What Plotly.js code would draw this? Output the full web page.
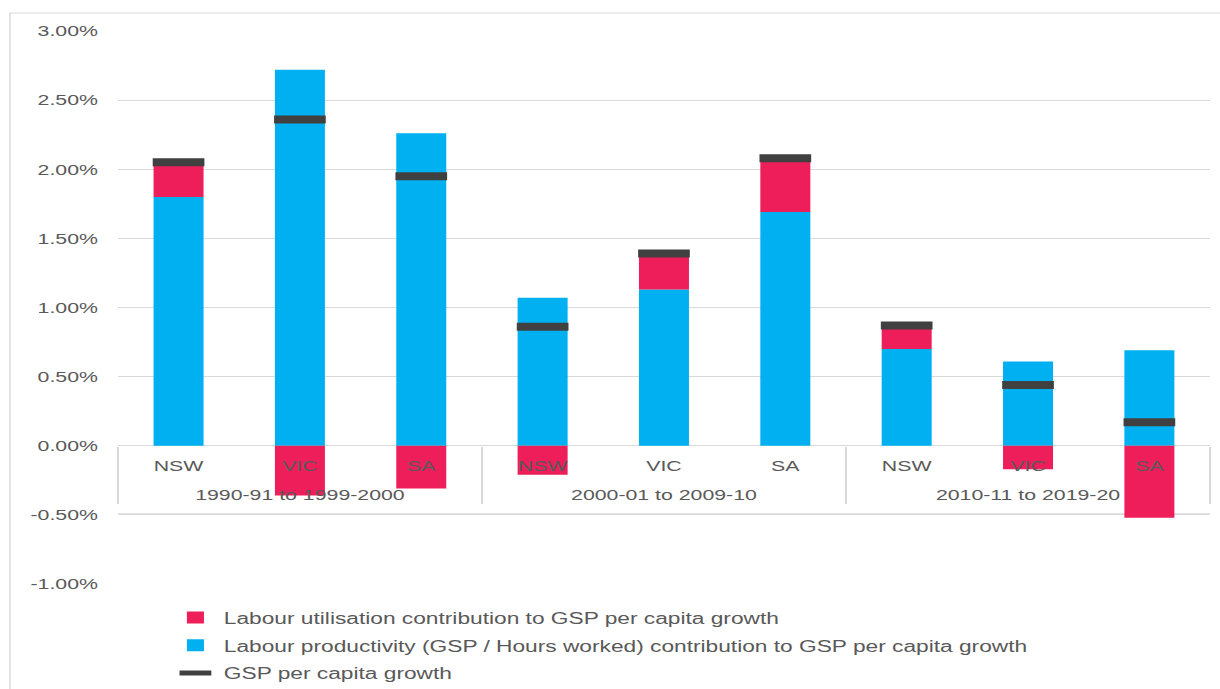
<!DOCTYPE html>
<html>
<head>
<meta charset="utf-8">
<script src="https://cdn.plot.ly/plotly-3.0.1.min.js"></script>
<style>
html,body{margin:0;padding:0;background:#fff;overflow:hidden;}
#wrap{width:1220px;height:689px;overflow:hidden;}
#chart{width:859px;height:689px;transform:scaleX(1.42026);transform-origin:0 0;}
</style>
</head>
<body>
<div id="wrap"><div id="chart"></div></div>
<script>
// Data (percent)
const periods = ['1990-91 to 1999-2000','1990-91 to 1999-2000','1990-91 to 1999-2000',
                 '2000-01 to 2009-10','2000-01 to 2009-10','2000-01 to 2009-10',
                 '2010-11 to 2019-20','2010-11 to 2019-20','2010-11 to 2019-20'];
const states = ['NSW','VIC','SA','NSW','VIC','SA','NSW','VIC','SA'];
const productivity = [1.80, 2.72, 2.26, 1.07, 1.13, 1.69, 0.70, 0.61, 0.69];
const utilisation  = [0.25, -0.36, -0.31, -0.21, 0.26, 0.39, 0.17, -0.17, -0.52];
const gspGrowth    = [2.05, 2.36, 1.95, 0.86, 1.39, 2.08, 0.87, 0.44, 0.17];

const yTickVals = [-1, -0.5, 0, 0.5, 1, 1.5, 2, 2.5, 3];
const yTickText = ['-1.00%','-0.50%','0.00%','0.50%','1.00%','1.50%','2.00%','2.50%','3.00%'];

const names = {
  util: 'Labour utilisation contribution to GSP per capita growth',
  prod: 'Labour productivity (GSP / Hours worked) contribution to GSP per capita growth',
  gsp: 'GSP per capita growth'
};

// group labels get a leading line break to sit lower, as in the original
const x = [periods.map(p => '<br>' + p), states];

const traces = [
  {type:'bar', x:x, y:productivity, name:names.prod, marker:{color:'#00B0F0'},
   legendrank:2, legendgroup:'b'},
  {type:'bar', x:x, y:utilisation, name:names.util, marker:{color:'#ED1E5A'},
   legendrank:1, legendgroup:'a'},
  {type:'scatter', mode:'markers', x:x, y:gspGrowth, name:names.gsp,
   marker:{symbol:'line-ew-open', size:26, color:'#404040', line:{width:8, color:'#404040'}},
   legendrank:3, legendgroup:'c'}
];

const layout = {
  width:859, height:689,
  margin:{l:83, r:7, t:31, b:105, autoexpand:false},
  paper_bgcolor:'#ffffff', plot_bgcolor:'#ffffff',
  barmode:'relative', bargap:0.588,
  hovermode:false,
  font:{family:'"Liberation Sans", Arial, sans-serif', color:'#595959', size:15},
  xaxis:{type:'multicategory', anchor:'free', position:0.25, range:[-0.5, 8.5],
         showdividers:true, dividercolor:'#d9d9d9', dividerwidth:1, automargin:false,
         showline:false, ticks:'', showgrid:false, ticklabelstandoff:9,
         tickfont:{size:15, color:'#595959'}},
  yaxis:{range:[-1,3], tickmode:'array', tickvals:yTickVals, ticktext:yTickText,
         gridcolor:'#d9d9d9', gridwidth:1, zeroline:true, zerolinecolor:'#d9d9d9', zerolinewidth:1,
         showline:false, ticks:'', ticklabelstandoff:13, automargin:false,
         tickfont:{size:15, color:'#595959'}},
  legend:{x:0.045, y:-0.03, xanchor:'left', yanchor:'top', traceorder:'grouped',
          tracegroupgap:4, font:{size:16, color:'#595959'},
          bgcolor:'rgba(0,0,0,0)'},
  shapes:[
    {type:'line', xref:'paper', yref:'paper', x0:0, x1:1, y0:0.127, y1:0.127,
     line:{color:'#d9d9d9', width:1}, layer:'below'},
    {type:'rect', xref:'paper', yref:'paper', x0:-0.0988, x1:1.2, y0:-0.5, y1:1.0325,
     line:{color:'#d9d9d9', width:1}, layer:'below'}
  ]
};

Plotly.newPlot('chart', traces, layout, {displayModeBar:false, staticPlot:true});
</script>
</body>
</html>
